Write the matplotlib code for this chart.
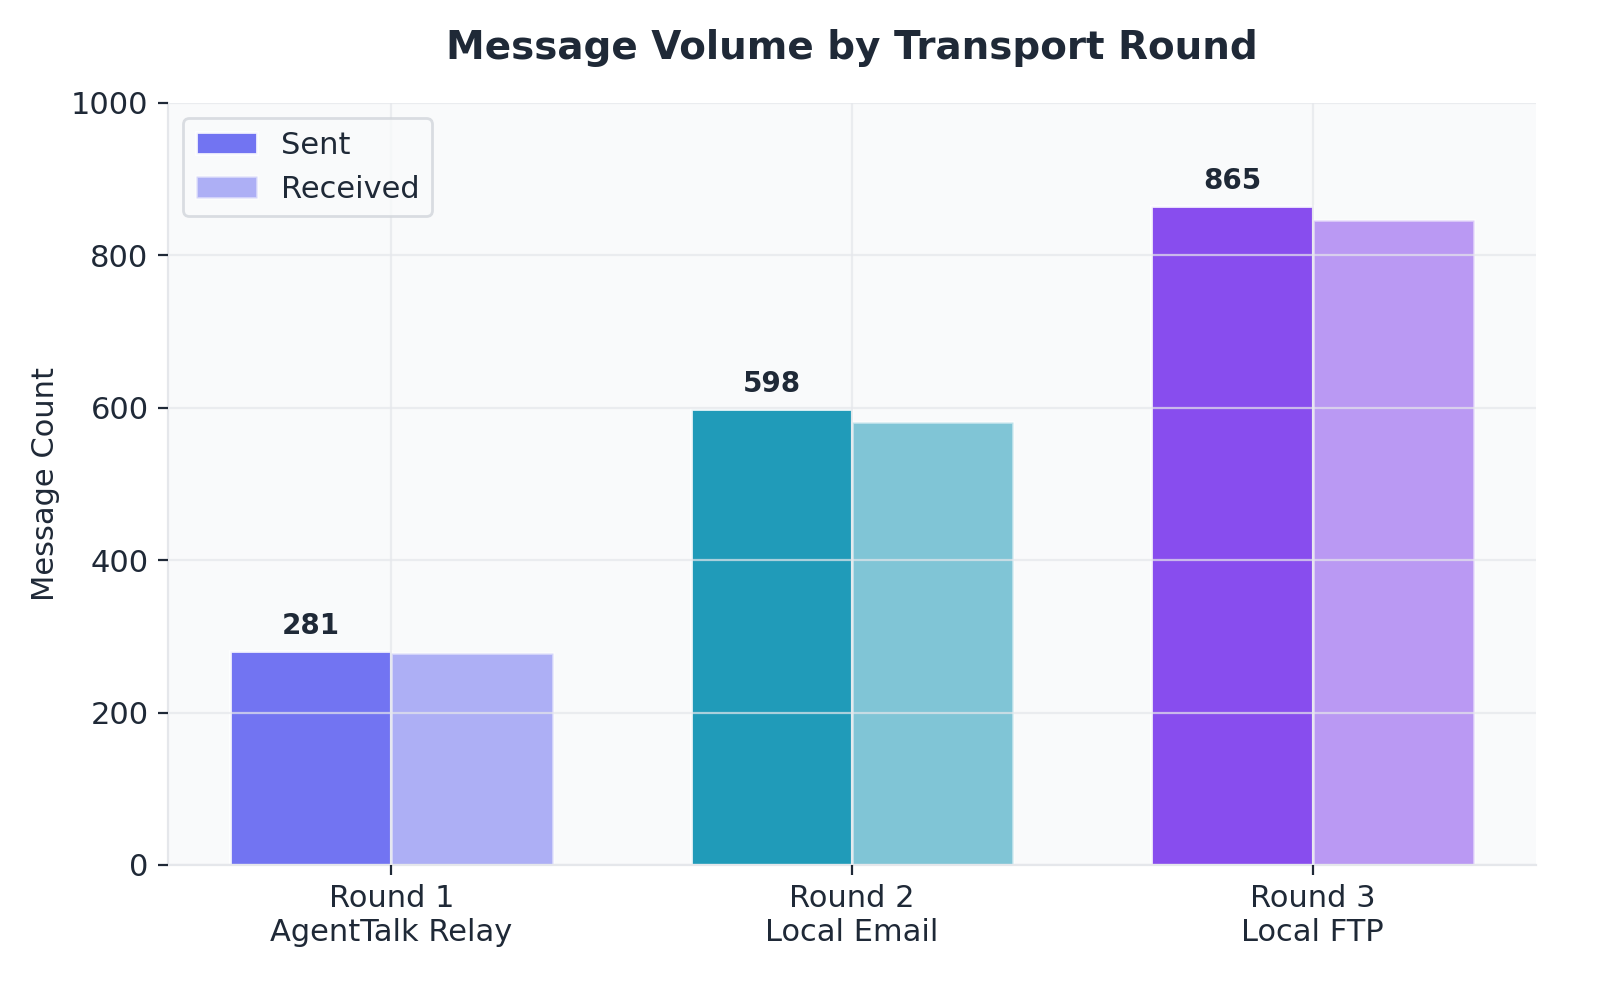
import matplotlib.pyplot as plt
import numpy as np

rounds = ['Round 1\nAgentTalk Relay', 'Round 2\nLocal Email', 'Round 3\nLocal FTP']
sent = [281, 598, 865]
received = [278, 581, 847]
colors = ['#6366f1', '#0891b2', '#7c3aed']

text_col = '#1f2937'
grid_col = '#e5e7eb'

fig, ax = plt.subplots(figsize=(8, 5), dpi=200)
ax.set_facecolor('#f9fafb')

x = np.arange(len(rounds))
w = 0.35
b1 = ax.bar(x - w/2, sent, w, color=colors, alpha=0.9, edgecolor='white', linewidth=1, label='Sent')
b2 = ax.bar(x + w/2, received, w, color=colors, alpha=0.5, edgecolor='white', linewidth=1, label='Received')

for xi, v in zip(x, sent):
    ax.annotate(str(v), (xi - w/2, v), xytext=(0, 4), textcoords='offset points',
                ha='center', va='bottom', fontsize=10, fontweight='bold', color=text_col)

ax.set_ylim(0, 1000)
ax.set_xticks(x)
ax.set_xticklabels(rounds, fontsize=11, color=text_col)
ax.tick_params(axis='y', labelsize=11, labelcolor=text_col)
ax.tick_params(colors=text_col)
ax.set_ylabel('Message Count', fontsize=11, color=text_col)
ax.set_title('Message Volume by Transport Round', fontsize=14, fontweight='bold', color=text_col, pad=16)

ax.set_axisbelow(False)
ax.grid(True, color=grid_col, linewidth=0.8, alpha=0.7)
for s in ['top', 'right']:
    ax.spines[s].set_visible(False)
for s in ['left', 'bottom']:
    ax.spines[s].set_color(grid_col)

leg = ax.legend(loc='upper left', fontsize=11, frameon=True, labelcolor=text_col)
leg.get_frame().set_edgecolor('#d1d5db')
leg.get_frame().set_facecolor('#f9fafb')
leg.legend_handles[0].set_color(colors[0])
leg.legend_handles[0].set_alpha(0.9)
leg.legend_handles[0].set_edgecolor('white')
leg.legend_handles[1].set_color(colors[0])
leg.legend_handles[1].set_alpha(0.5)
leg.legend_handles[1].set_edgecolor('white')

fig.subplots_adjust(left=0.105, right=0.96, top=0.897, bottom=0.135)
fig.savefig('out.png')
